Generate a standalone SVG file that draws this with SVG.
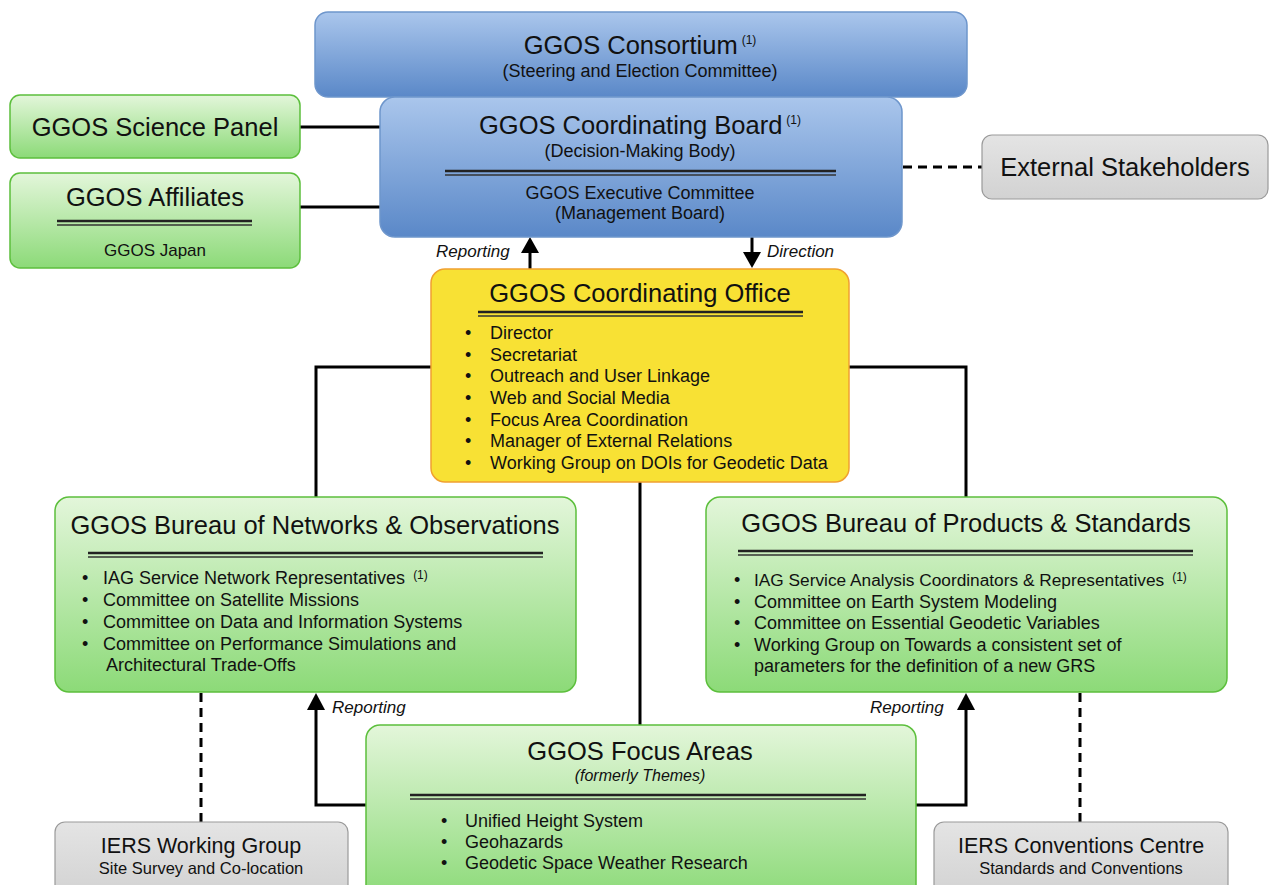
<svg xmlns="http://www.w3.org/2000/svg" width="1272" height="885" viewBox="0 0 1272 885">
<defs>
<linearGradient id="gBlue" x1="0" y1="0" x2="0" y2="1"><stop offset="0" stop-color="#aac6ec"/><stop offset="1" stop-color="#5a88c8"/></linearGradient>
<linearGradient id="gGreen" x1="0" y1="0" x2="0" y2="1"><stop offset="0" stop-color="#e3f6da"/><stop offset="1" stop-color="#8cda78"/></linearGradient>
<linearGradient id="gGray" x1="0" y1="0" x2="0" y2="1"><stop offset="0" stop-color="#e4e4e4"/><stop offset="1" stop-color="#d2d2d2"/></linearGradient>
</defs>
<style>
text{font-family:"Liberation Sans",Arial,sans-serif;fill:#111;}
.t{font-size:25.5px;text-anchor:middle;}
.s{font-size:18px;text-anchor:middle;}
.b{font-size:18px;}
.sup{font-size:12px;}
.i{font-style:italic;font-size:17px;}
.blue{fill:url(#gBlue);stroke:#6e96cc;stroke-width:1.5;}
.green{fill:url(#gGreen);stroke:#5cbf3c;stroke-width:1.5;}
.gray{fill:url(#gGray);stroke:#9a9a9a;stroke-width:1.2;}
.yellow{fill:#f8e134;stroke:#f0a030;stroke-width:1.5;}
.ln{stroke:#000;stroke-width:3;fill:none;}
.dash{stroke:#000;stroke-width:3;fill:none;stroke-dasharray:9,6;}
.sep1{stroke:#222;stroke-width:2.5;}
.sep2{stroke:#333;stroke-width:1.5;}
.ah{fill:#000;}
</style>
<rect width="1272" height="885" fill="#fff"/>

<g id="connectors">
<line class="ln" x1="300" y1="127" x2="381" y2="127"/>
<line class="ln" x1="300" y1="207" x2="381" y2="207"/>
<line class="dash" x1="903" y1="167" x2="982" y2="167"/>
<line class="ln" x1="530" y1="269" x2="530" y2="248"/>
<path class="ah" d="M521,253 L530,237 L539,253 z"/>
<line class="ln" x1="752" y1="237" x2="752" y2="256"/>
<path class="ah" d="M743,252 L752,268 L761,252 z"/>
<polyline class="ln" points="431,367 316,367 316,497"/>
<polyline class="ln" points="849,367 966,367 966,497"/>
<line class="ln" x1="640" y1="482" x2="640" y2="725"/>
<polyline class="ln" points="366,805 316,805 316,705"/>
<path class="ah" d="M307,710 L316,693 L325,710 z"/>
<polyline class="ln" points="916,805 966,805 966,705"/>
<path class="ah" d="M957,710 L966,693 L975,710 z"/>
<line class="dash" x1="201" y1="693" x2="201" y2="822"/>
<line class="dash" x1="1080" y1="693" x2="1080" y2="822"/>
<text class="i" x="436" y="257">Reporting</text>
<text class="i" x="767" y="257">Direction</text>
<text class="i" x="332" y="713">Reporting</text>
<text class="i" x="870" y="713">Reporting</text>
</g>

<g id="consortium">
<rect class="blue" x="315" y="12" width="652" height="85" rx="13"/>
<text class="t" x="640" y="54">GGOS Consortium<tspan class="sup" dx="4" dy="-10">(1)</tspan></text>
<text class="s" x="640" y="77">(Steering and Election Committee)</text>
</g>

<g id="coordinating-board">
<rect class="blue" x="380" y="97" width="522" height="140" rx="15"/>
<text class="t" x="640" y="134">GGOS Coordinating Board<tspan class="sup" dx="4" dy="-10">(1)</tspan></text>
<text class="s" x="640" y="157">(Decision-Making Body)</text>
<line class="sep1" x1="445" y1="171" x2="836" y2="171"/>
<line class="sep2" x1="445" y1="175" x2="836" y2="175"/>
<text class="s" x="640" y="199">GGOS Executive Committee</text>
<text class="s" x="640" y="219">(Management Board)</text>
</g>

<g id="science-panel">
<rect class="green" x="10" y="95" width="290" height="63" rx="10"/>
<text class="t" x="155" y="136">GGOS Science Panel</text>
</g>

<g id="affiliates">
<rect class="green" x="10" y="173" width="290" height="95" rx="10"/>
<text class="t" x="155" y="206">GGOS Affiliates</text>
<line class="sep1" x1="57" y1="221" x2="252" y2="221"/>
<line class="sep2" x1="57" y1="225" x2="252" y2="225"/>
<text x="155" y="256" style="font-size:17px;text-anchor:middle">GGOS Japan</text>
</g>

<g id="external-stakeholders">
<rect class="gray" x="982" y="135" width="286" height="64" rx="10"/>
<text class="t" x="1125" y="176">External Stakeholders</text>
</g>

<g id="coordinating-office">
<rect class="yellow" x="431" y="269" width="418" height="213" rx="14"/>
<text class="t" x="640" y="302">GGOS Coordinating Office</text>
<line class="sep1" x1="478" y1="312" x2="803" y2="312"/>
<line class="sep2" x1="478" y1="316" x2="803" y2="316"/>
<g class="b">
<text x="465" y="339">•</text><text x="490" y="339">Director</text>
<text x="465" y="361">•</text><text x="490" y="361">Secretariat</text>
<text x="465" y="382">•</text><text x="490" y="382">Outreach and User Linkage</text>
<text x="465" y="404">•</text><text x="490" y="404">Web and Social Media</text>
<text x="465" y="426">•</text><text x="490" y="426">Focus Area Coordination</text>
<text x="465" y="447">•</text><text x="490" y="447">Manager of External Relations</text>
<text x="465" y="469">•</text><text x="490" y="469">Working Group on DOIs for Geodetic Data</text>
</g>
</g>

<g id="bureau-networks">
<rect class="green" x="55" y="497" width="521" height="195" rx="14"/>
<text class="t" x="315" y="534">GGOS Bureau of Networks &amp; Observations</text>
<line class="sep1" x1="88" y1="553" x2="543" y2="553"/>
<line class="sep2" x1="88" y1="557" x2="543" y2="557"/>
<g class="b">
<text x="82" y="584">•</text><text x="103" y="584">IAG Service Network Representatives<tspan class="sup" dx="8" dy="-5">(1)</tspan></text>
<text x="82" y="606">•</text><text x="103" y="606">Committee on Satellite Missions</text>
<text x="82" y="628">•</text><text x="103" y="628">Committee on Data and Information Systems</text>
<text x="82" y="650">•</text><text x="103" y="650">Committee on Performance Simulations and</text>
<text x="106" y="671">Architectural Trade-Offs</text>
</g>
</g>

<g id="bureau-products">
<rect class="green" x="706" y="497" width="521" height="195" rx="14"/>
<text class="t" x="966" y="532">GGOS Bureau of Products &amp; Standards</text>
<line class="sep1" x1="738" y1="551" x2="1193" y2="551"/>
<line class="sep2" x1="738" y1="555" x2="1193" y2="555"/>
<g class="b">
<text x="734" y="586">•</text><text x="754" y="586" style="font-size:17.3px">IAG Service Analysis Coordinators &amp; Representatives<tspan class="sup" dx="8" dy="-5">(1)</tspan></text>
<text x="734" y="608">•</text><text x="754" y="608">Committee on Earth System Modeling</text>
<text x="734" y="629">•</text><text x="754" y="629">Committee on Essential Geodetic Variables</text>
<text x="734" y="651">•</text><text x="754" y="651">Working Group on Towards a consistent set of</text>
<text x="754" y="672">parameters for the definition of a new GRS</text>
</g>
</g>

<g id="focus-areas">
<rect class="green" x="366" y="725" width="550" height="175" rx="14"/>
<text class="t" x="640" y="760">GGOS Focus Areas</text>
<text class="i" x="640" y="781" text-anchor="middle" style="font-size:16px">(formerly Themes)</text>
<line class="sep1" x1="410" y1="795" x2="866" y2="795"/>
<line class="sep2" x1="410" y1="799" x2="866" y2="799"/>
<g class="b">
<text x="441" y="827">•</text><text x="465" y="827">Unified Height System</text>
<text x="441" y="848">•</text><text x="465" y="848">Geohazards</text>
<text x="441" y="869">•</text><text x="465" y="869">Geodetic Space Weather Research</text>
</g>
</g>

<g id="iers-working-group">
<rect class="gray" x="55" y="822" width="293" height="75" rx="10"/>
<text x="201" y="853" style="font-size:21.5px;text-anchor:middle">IERS Working Group</text>
<text x="201" y="874" style="font-size:16.5px;text-anchor:middle">Site Survey and Co-location</text>
</g>

<g id="iers-conventions">
<rect class="gray" x="934" y="822" width="294" height="75" rx="10"/>
<text x="1081" y="853" style="font-size:21.5px;text-anchor:middle">IERS Conventions Centre</text>
<text x="1081" y="874" style="font-size:16.5px;text-anchor:middle">Standards and Conventions</text>
</g>
</svg>
